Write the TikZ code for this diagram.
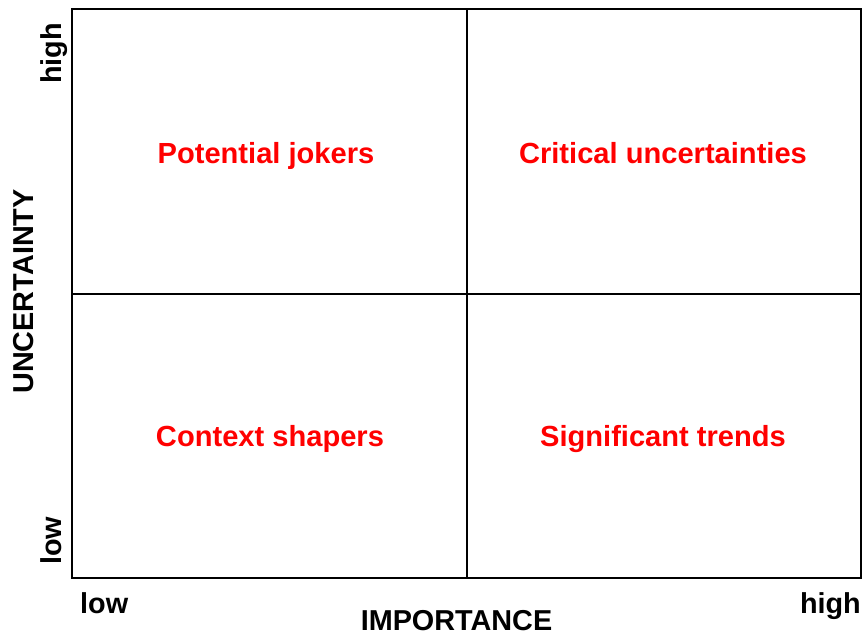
\documentclass[tikz,border=0pt]{standalone}
\usepackage{fontspec}
\setmainfont{Liberation Sans}
\begin{document}
\begin{tikzpicture}[x=1pt,y=-1pt,
  grid/.style={draw=black,line width=1.5pt},
  quadlabel/.style={text=red,font=\fontsize{29.1}{34}\selectfont\bfseries,inner sep=0pt,anchor=base},
  axislabel/.style={text=black,font=\fontsize{28.8}{34}\selectfont\bfseries,inner sep=0pt}]
  % canvas
  \path[use as bounding box,fill=white] (0,0) rectangle (865,634);
  % frame corners and centre
  \coordinate (tl) at (72,9);
  \coordinate (br) at (861,578);
  \coordinate (tm) at (467,9);
  \coordinate (bm) at (467,578);
  \coordinate (ml) at (72,294);
  \coordinate (mr) at (861,294);
  % quadrant grid
  \draw[grid] (tl) rectangle (br);
  \draw[grid] (tm) -- (bm);
  \draw[grid] (ml) -- (mr);
  % quadrant labels
  \node[quadlabel] (jokers) at (266,163.3) {Potential jokers};
  \node[quadlabel] (critical) at (663,163.3) {Critical uncertainties};
  \node[quadlabel] (context) at (270,446.7) {Context shapers};
  \node[quadlabel] (trends) at (663,446.7) {Significant trends};
  % horizontal axis
  \node[axislabel,anchor=base west] (xlow) at (80,613) {low};
  \node[axislabel,anchor=base east] (xhigh) at (861,613) {high};
  \node[axislabel,anchor=base] (xname) at (456.5,630.5) {IMPORTANCE};
  % vertical axis
  \node[axislabel,anchor=base west,rotate=90] (ylow) at (61.7,565) {low};
  \node[axislabel,anchor=base east,rotate=90] (yhigh) at (61.7,23) {high};
  \node[axislabel,anchor=base,rotate=90] (yname) at (33.3,291.5) {UNCERTAINTY};
\end{tikzpicture}
\end{document}
